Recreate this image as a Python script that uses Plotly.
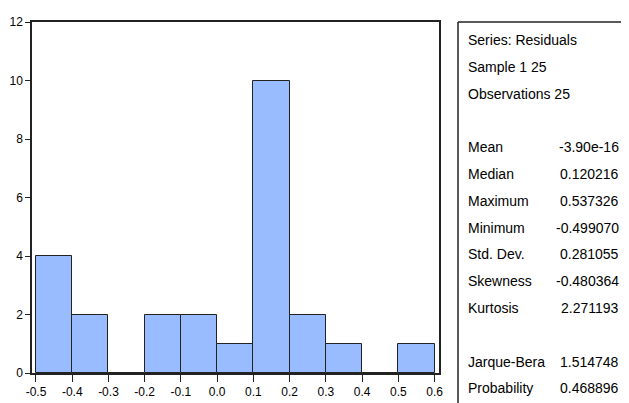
import plotly.graph_objects as go

# ---- data ----
bin_left = [-0.5, -0.4, -0.3, -0.2, -0.1, 0.0, 0.1, 0.2, 0.3, 0.4, 0.5]
counts = [4, 2, 0, 2, 2, 1, 10, 2, 1, 0, 1]
bin_width = 0.1
x_ticks = [-0.5, -0.4, -0.3, -0.2, -0.1, 0.0, 0.1, 0.2, 0.3, 0.4, 0.5, 0.6]
x_tick_labels = ["-0.5", "-0.4", "-0.3", "-0.2", "-0.1", "0.0", "0.1", "0.2", "0.3", "0.4", "0.5", "0.6"]
y_ticks = [0, 2, 4, 6, 8, 10, 12]

header_lines = ["Series: Residuals", "Sample 1 25", "Observations 25"]
stat_names = ["Mean", "Median", "Maximum", "Minimum", "Std. Dev.", "Skewness", "Kurtosis"]
stat_values = ["-3.90e-16", "0.120216", "0.537326", "-0.499070", "0.281055", "-0.480364", "2.271193"]
test_names = ["Jarque-Bera", "Probability"]
test_values = ["1.514748", "0.468896"]

# the page body has an 8px margin, so the figure is offset by 8px
OFF = 8
W, H = 629 - OFF, 403 - OFF
FONT = "Liberation Sans, Arial, sans-serif"

centers = [b + bin_width / 2 for b in bin_left]

fig = go.Figure()
fig.add_trace(go.Bar(
    x=centers, y=counts, width=bin_width,
    marker=dict(color="#99BBFF", line=dict(color="#222222", width=1)),
    hoverinfo="skip",
))

def px_x(p):
    return (p - OFF) / W

def px_y(p):
    return 1 - (p - OFF) / H

fig.update_layout(
    width=W, height=H,
    margin=dict(l=0, r=0, t=0, b=0, autoexpand=False),
    paper_bgcolor="white", plot_bgcolor="white",
    showlegend=False,
    bargap=0,
    font=dict(family=FONT, size=12, color="black"),
    xaxis=dict(
        domain=[px_x(32), px_x(439)],
        range=[-0.511, 0.612],
        tickvals=x_ticks, ticktext=x_tick_labels,
        ticks="outside", ticklen=7, tickcolor="#222222", tickwidth=1,
        showline=True, linecolor="#222222", linewidth=1.5, mirror=True,
        showgrid=False, zeroline=False, automargin=False,
        tickfont=dict(family=FONT, size=12),
    ),
    yaxis=dict(
        domain=[px_y(373), px_y(22)],
        range=[0, 12],
        tickvals=y_ticks,
        ticks="outside", ticklen=5, tickcolor="#222222", tickwidth=1,
        showline=True, linecolor="#222222", linewidth=1.5, mirror=True,
        showgrid=False, zeroline=False, automargin=False,
        tickfont=dict(family=FONT, size=12),
    ),
)

# stats box border (left and top lines)
BOX_L = 458
fig.add_shape(type="line", xref="paper", yref="paper",
              x0=px_x(BOX_L), x1=px_x(BOX_L), y0=px_y(22), y1=0,
              line=dict(color="#222222", width=1.5))
fig.add_shape(type="line", xref="paper", yref="paper",
              x0=px_x(BOX_L), x1=1, y0=px_y(22), y1=px_y(22),
              line=dict(color="#222222", width=1.5))

LX, RX = px_x(468), px_x(619)
FS = 14
step = 26.8

def add_label(text, y, x, anchor):
    fig.add_annotation(text=text, xref="paper", yref="paper", x=x, y=px_y(y),
                       xanchor=anchor, yanchor="middle", showarrow=False,
                       borderpad=0, borderwidth=0,
                       font=dict(family=FONT, size=FS, color="black"))

y0 = 40
for i, t in enumerate(header_lines):
    add_label(t, y0 + i * step, LX, "left")

for i, (n, v) in enumerate(zip(stat_names, stat_values)):
    yy = y0 + (4 + i) * step
    add_label(n, yy, LX, "left")
    add_label(v, yy, RX, "right")

for i, (n, v) in enumerate(zip(test_names, test_values)):
    yy = y0 + (12 + i) * step
    add_label(n, yy, LX, "left")
    add_label(v, yy, RX, "right")

fig.write_html("out.html")
